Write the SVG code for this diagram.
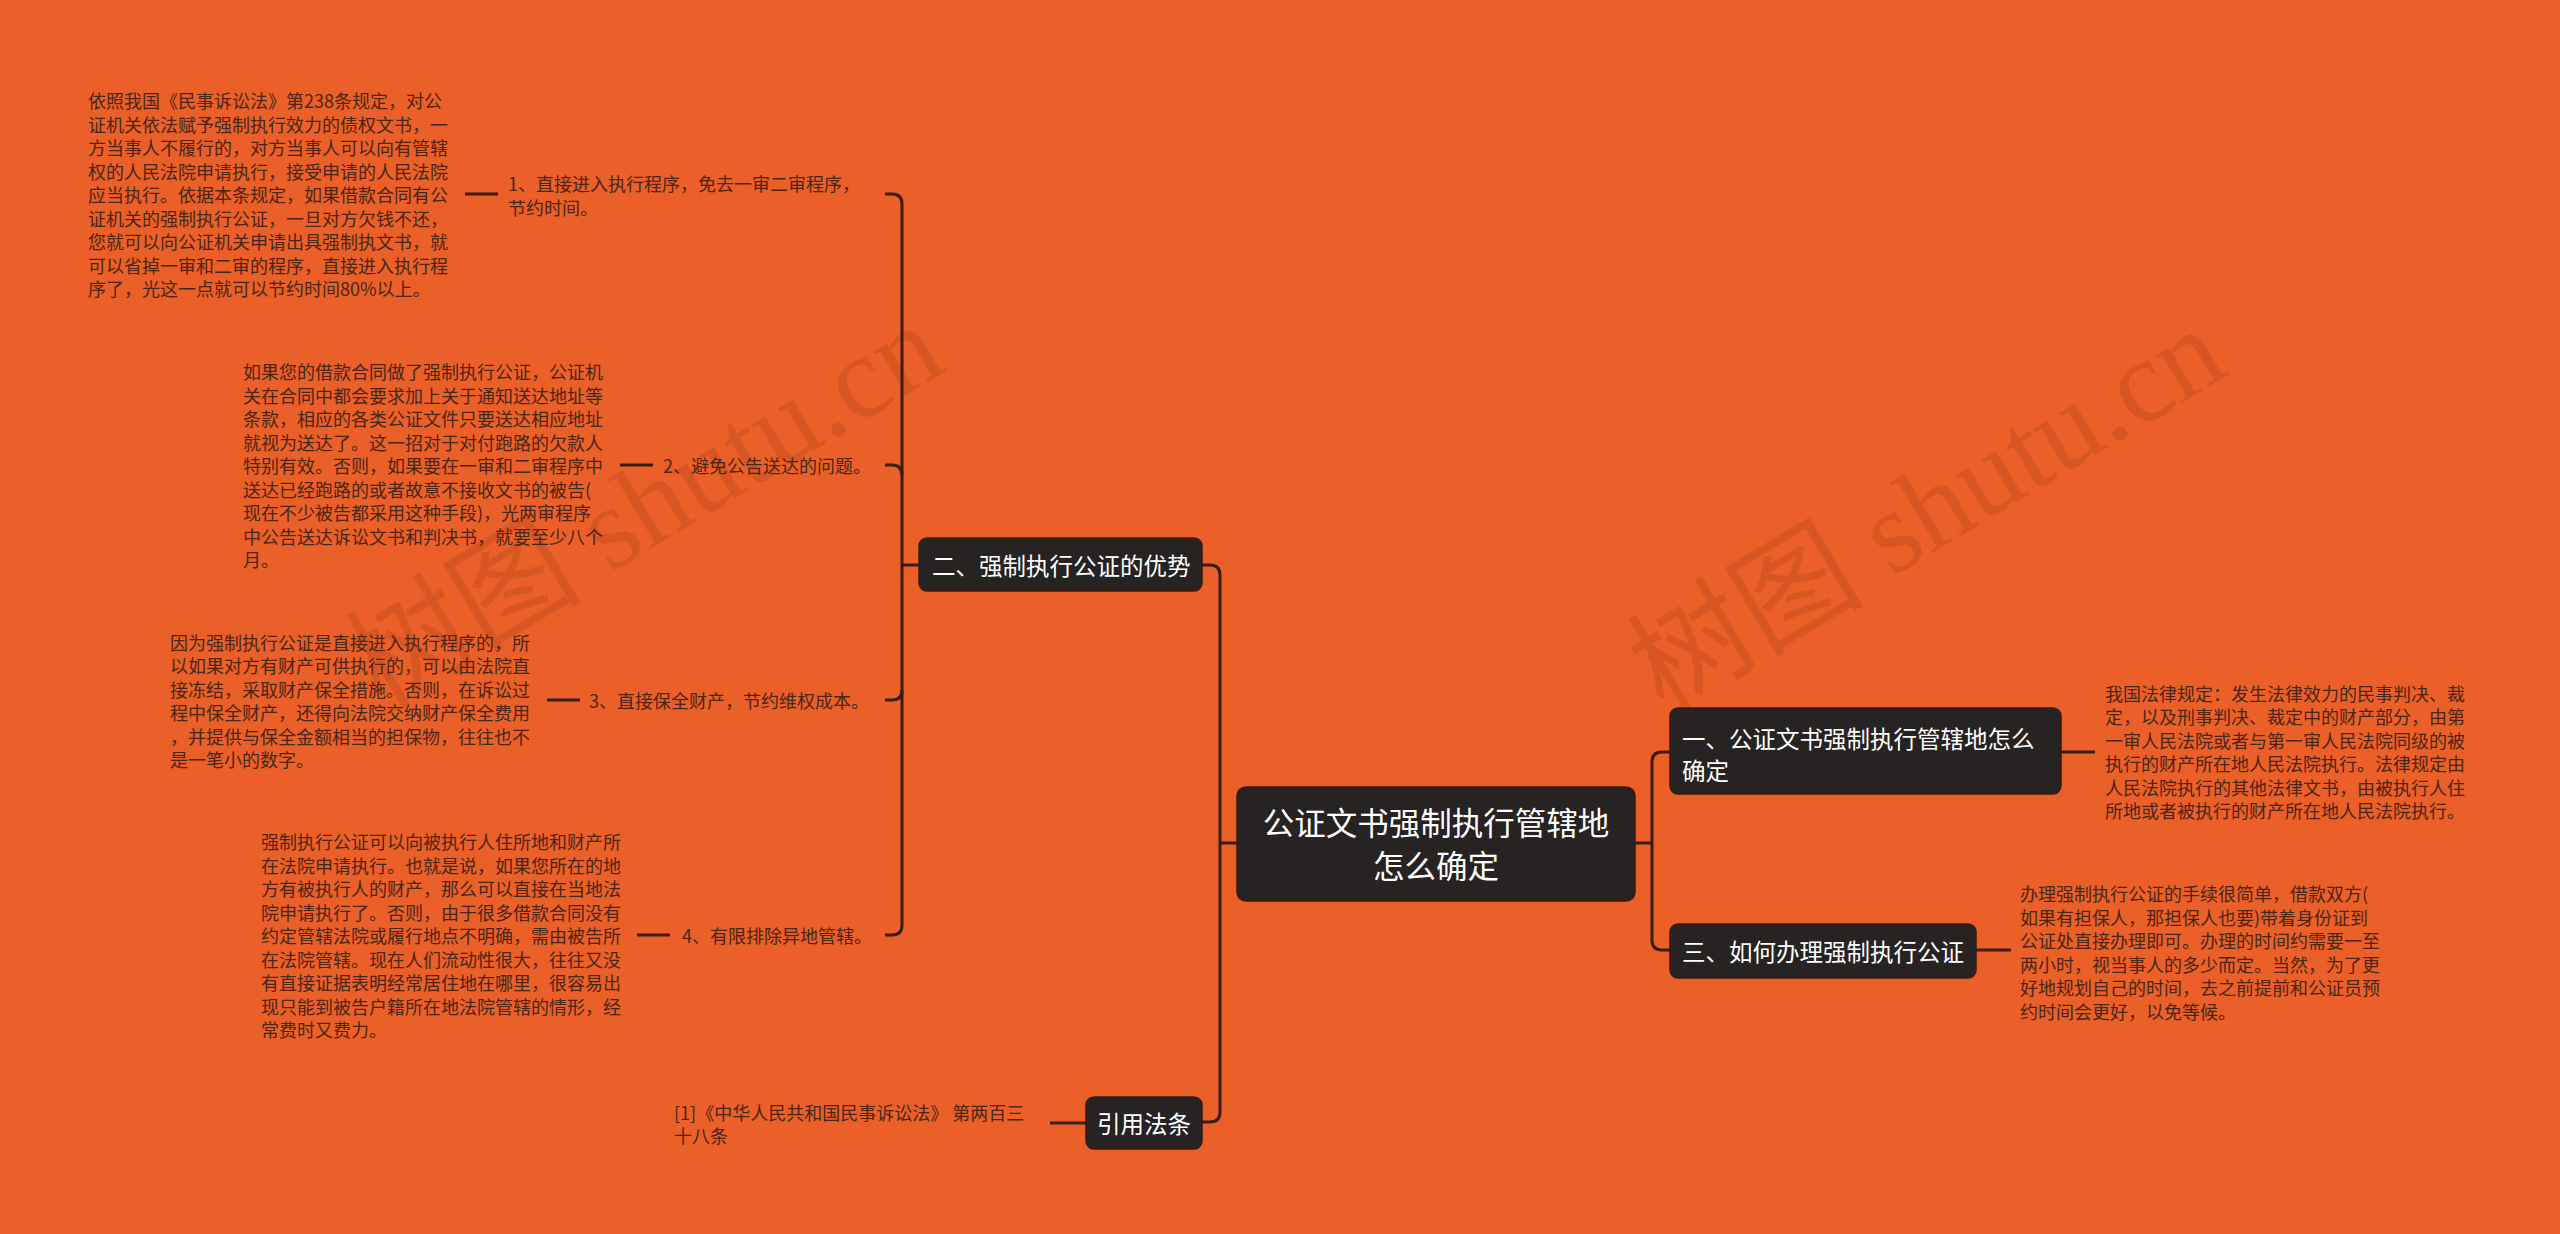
<svg xmlns="http://www.w3.org/2000/svg" width="2560" height="1234" viewBox="0 0 2560 1234">
<style>
.bg{fill:#EB5F28}
.node rect{fill:#262322;stroke:#3a1d10;stroke-width:1.5}
.nt{fill:#ffffff;font-family:"Noto Sans CJK SC","Liberation Sans",sans-serif;dominant-baseline:central}
.lab{fill:#4a2616;font-family:"Noto Sans CJK SC","Liberation Sans",sans-serif;font-size:18px;dominant-baseline:central}
.det{fill:#4a2616;font-family:"Noto Sans CJK SC","Liberation Sans",sans-serif;font-size:18px;dominant-baseline:central}
.conn path{fill:none;stroke:#3a1d10;stroke-width:3}
.wm{fill:#7a2e12;opacity:0.16;font-family:"Liberation Serif","Noto Sans CJK SC",serif;font-size:118px}
</style>
<rect class="bg" x="0" y="0" width="2560" height="1234"/>

<g id="watermarks">
<text class="wm" x="645" y="506" text-anchor="middle" dominant-baseline="central" transform="rotate(-31 645 506)">树图 shutu.cn</text>
<text class="wm" x="1927" y="510" text-anchor="middle" dominant-baseline="central" transform="rotate(-31 1927 510)">树图 shutu.cn</text>
</g>

<g id="connectors" class="conn">
<path d="M1237,843 H1220"/>
<path d="M1202,565 H1210 Q1220,565 1220,575 V1112 Q1220,1122 1210,1122 H1202"/>
<path d="M1635,843 H1652"/>
<path d="M1670,752 H1662 Q1652,752 1652,762 V940 Q1652,950 1662,950 H1670"/>
<path d="M919,565 H902"/>
<path d="M885,194 H892 Q902,194 902,204 V925 Q902,935 892,935 H885"/>
<path d="M885,465 H892 Q902,465 902,475"/>
<path d="M885,700 H892 Q902,700 902,690"/>
<path d="M465,194 H498"/>
<path d="M620,465 H653"/>
<path d="M547,700 H580"/>
<path d="M637,935 H670"/>
<path d="M2061,752 H2095"/>
<path d="M1976,950 H2011"/>
<path d="M1050,1123 H1086"/>
</g>

<g id="root" class="node">
<rect x="1237" y="787" width="398" height="114" rx="9"/>
<text class="nt" font-size="31.5" x="1436" y="821" text-anchor="middle">公证文书强制执行管辖地</text>
<text class="nt" font-size="31.5" x="1436" y="864" text-anchor="middle">怎么确定</text>
</g>

<g id="n1" class="node">
<rect x="1670" y="708" width="391" height="86" rx="8"/>
<text class="nt" font-size="23.5" x="1682" y="738">一、公证文书强制执行管辖地怎么</text>
<text class="nt" font-size="23.5" x="1682" y="770">确定</text>
</g>
<g id="n1-detail">
<text class="det" x="2105" y="693">我国法律规定：发生法律效力的民事判决、裁</text>
<text class="det" x="2105" y="716">定，以及刑事判决、裁定中的财产部分，由第</text>
<text class="det" x="2105" y="740">一审人民法院或者与第一审人民法院同级的被</text>
<text class="det" x="2105" y="763">执行的财产所在地人民法院执行。法律规定由</text>
<text class="det" x="2105" y="787">人民法院执行的其他法律文书，由被执行人住</text>
<text class="det" x="2105" y="810">所地或者被执行的财产所在地人民法院执行。</text>
</g>

<g id="n3" class="node">
<rect x="1670" y="924" width="306" height="54" rx="8"/>
<text class="nt" font-size="23.5" x="1682" y="951">三、如何办理强制执行公证</text>
</g>
<g id="n3-detail">
<text class="det" x="2020" y="893">办理强制执行公证的手续很简单，借款双方(</text>
<text class="det" x="2020" y="917">如果有担保人，那担保人也要)带着身份证到</text>
<text class="det" x="2020" y="940">公证处直接办理即可。办理的时间约需要一至</text>
<text class="det" x="2020" y="964">两小时，视当事人的多少而定。当然，为了更</text>
<text class="det" x="2020" y="987">好地规划自己的时间，去之前提前和公证员预</text>
<text class="det" x="2020" y="1011">约时间会更好，以免等候。</text>
</g>

<g id="n2" class="node">
<rect x="919" y="538" width="283" height="53" rx="8"/>
<text class="nt" font-size="23.5" x="932" y="565">二、强制执行公证的优势</text>
</g>

<g id="n2-1">
<text class="lab" x="508" y="183">1、直接进入执行程序，免去一审二审程序，</text>
<text class="lab" x="508" y="207">节约时间。</text>
</g>
<g id="n2-1-detail">
<text class="det" x="88" y="100">依照我国《民事诉讼法》第238条规定，对公</text>
<text class="det" x="88" y="124">证机关依法赋予强制执行效力的债权文书，一</text>
<text class="det" x="88" y="147">方当事人不履行的，对方当事人可以向有管辖</text>
<text class="det" x="88" y="171">权的人民法院申请执行，接受申请的人民法院</text>
<text class="det" x="88" y="194">应当执行。依据本条规定，如果借款合同有公</text>
<text class="det" x="88" y="218">证机关的强制执行公证，一旦对方欠钱不还，</text>
<text class="det" x="88" y="241">您就可以向公证机关申请出具强制执文书，就</text>
<text class="det" x="88" y="265">可以省掉一审和二审的程序，直接进入执行程</text>
<text class="det" x="88" y="288">序了，光这一点就可以节约时间80%以上。</text>
</g>

<g id="n2-2">
<text class="lab" x="663" y="465">2、避免公告送达的问题。</text>
</g>
<g id="n2-2-detail">
<text class="det" x="243" y="371">如果您的借款合同做了强制执行公证，公证机</text>
<text class="det" x="243" y="395">关在合同中都会要求加上关于通知送达地址等</text>
<text class="det" x="243" y="418">条款，相应的各类公证文件只要送达相应地址</text>
<text class="det" x="243" y="442">就视为送达了。这一招对于对付跑路的欠款人</text>
<text class="det" x="243" y="465">特别有效。否则，如果要在一审和二审程序中</text>
<text class="det" x="243" y="489">送达已经跑路的或者故意不接收文书的被告(</text>
<text class="det" x="243" y="512">现在不少被告都采用这种手段)，光两审程序</text>
<text class="det" x="243" y="536">中公告送达诉讼文书和判决书，就要至少八个</text>
<text class="det" x="243" y="559">月。</text>
</g>

<g id="n2-3">
<text class="lab" x="589" y="700">3、直接保全财产，节约维权成本。</text>
</g>
<g id="n2-3-detail">
<text class="det" x="170" y="642">因为强制执行公证是直接进入执行程序的，所</text>
<text class="det" x="170" y="665">以如果对方有财产可供执行的，可以由法院直</text>
<text class="det" x="170" y="689">接冻结，采取财产保全措施。否则，在诉讼过</text>
<text class="det" x="170" y="712">程中保全财产，还得向法院交纳财产保全费用</text>
<text class="det" x="170" y="736">，并提供与保全金额相当的担保物，往往也不</text>
<text class="det" x="170" y="759">是一笔小的数字。</text>
</g>

<g id="n2-4">
<text class="lab" x="682" y="935">4、有限排除异地管辖。</text>
</g>
<g id="n2-4-detail">
<text class="det" x="261" y="841">强制执行公证可以向被执行人住所地和财产所</text>
<text class="det" x="261" y="865">在法院申请执行。也就是说，如果您所在的地</text>
<text class="det" x="261" y="888">方有被执行人的财产，那么可以直接在当地法</text>
<text class="det" x="261" y="912">院申请执行了。否则，由于很多借款合同没有</text>
<text class="det" x="261" y="935">约定管辖法院或履行地点不明确，需由被告所</text>
<text class="det" x="261" y="959">在法院管辖。现在人们流动性很大，往往又没</text>
<text class="det" x="261" y="982">有直接证据表明经常居住地在哪里，很容易出</text>
<text class="det" x="261" y="1006">现只能到被告户籍所在地法院管辖的情形，经</text>
<text class="det" x="261" y="1029">常费时又费力。</text>
</g>

<g id="n4" class="node">
<rect x="1086" y="1097" width="116" height="52" rx="8"/>
<text class="nt" font-size="23.5" x="1144" y="1123" text-anchor="middle">引用法条</text>
</g>
<g id="n4-detail">
<text class="lab" x="674" y="1112">[1]《中华人民共和国民事诉讼法》 第两百三</text>
<text class="lab" x="674" y="1135">十八条</text>
</g>
</svg>
